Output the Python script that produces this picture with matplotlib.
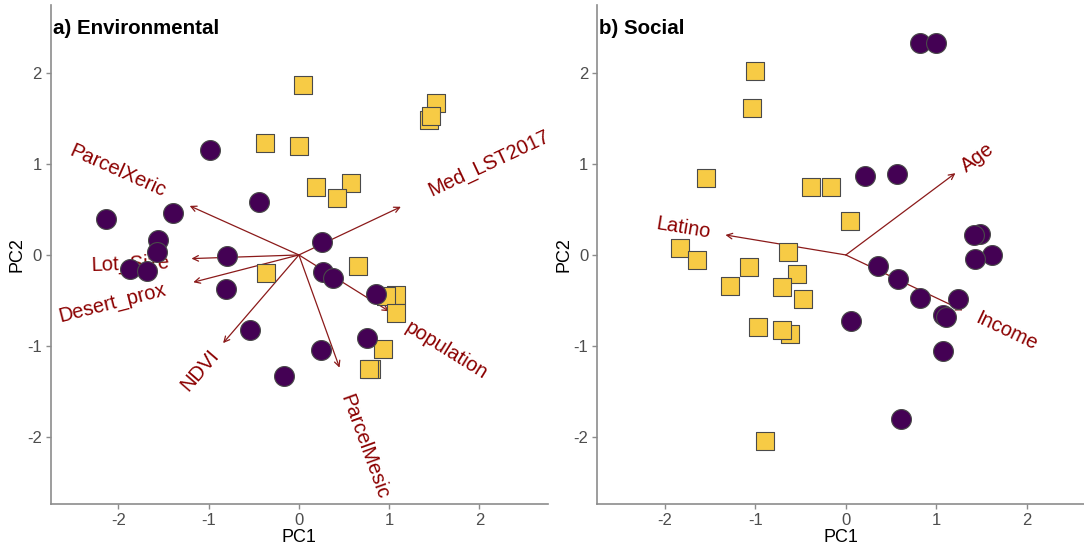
import matplotlib
matplotlib.use("Agg")
import matplotlib.pyplot as plt

plt.rcParams['font.family'] = ['Liberation Sans', 'DejaVu Sans']
plt.rcParams['axes.unicode_minus'] = False

# ---------------- data: a) Environmental ----------------
env_circle_x = [-0.985, -0.44, -2.14, -1.39, -1.56, -1.57, -0.80, -1.87, -1.68,
                -0.81, -0.54, -0.17, 0.26, 0.27, 0.38, 0.85, 0.75, 0.25]
env_circle_y = [1.16, 0.58, 0.40, 0.46, 0.16, 0.03, -0.01, -0.16, -0.18,
                -0.38, -0.83, -1.33, 0.14, -0.19, -0.25, -0.43, -0.91, -1.05]
env_square_x = [-0.38, 0.00, 0.04, 1.52, 1.44, 1.46, 0.19, 0.58, 0.42, -0.36,
                0.66, 1.08, 0.96, 1.08, 0.93, 0.80, 0.78]
env_square_y = [1.23, 1.20, 1.87, 1.67, 1.48, 1.53, 0.75, 0.79, 0.63, -0.20,
                -0.12, -0.44, -0.45, -0.64, -1.04, -1.25, -1.25]
env_vars = ["ParcelXeric", "Lot_Size", "Desert_prox", "NDVI", "Med_LST2017",
            "population", "ParcelMesic"]
env_load_x = [-1.21, -1.19, -1.17, -0.84, 1.13, 1.00, 0.45]
env_load_y = [0.54, -0.04, -0.30, -0.97, 0.53, -0.62, -1.24]
env_lab_x = [-2.01, -1.87, -2.07, -1.10, 2.11, 1.63, 0.72]
env_lab_y = [0.92, -0.10, -0.53, -1.27, 1.01, -1.05, -2.11]

# ---------------- data: b) Social ----------------
soc_circle_x = [0.82, 1.00, 0.21, 0.56, 1.48, 1.42, 1.61, 1.43, 0.36, 0.58,
                0.82, 1.24, 1.07, 1.11, 0.06, 1.07, 0.61]
soc_circle_y = [2.33, 2.33, 0.87, 0.89, 0.23, 0.22, 0.00, -0.04, -0.12, -0.26,
                -0.47, -0.48, -0.66, -0.68, -0.73, -1.06, -1.81]
soc_square_x = [-1.00, -1.04, -1.54, -1.83, -1.64, -0.64, -1.07, -0.54, -1.28,
                -0.71, -0.47, -0.97, -0.62, -0.70, -0.89, -0.38, -0.16, 0.05]
soc_square_y = [2.02, 1.62, 0.85, 0.08, -0.06, 0.03, -0.13, -0.21, -0.34,
                -0.35, -0.48, -0.79, -0.87, -0.83, -2.05, 0.75, 0.75, 0.37]
soc_vars = ["Latino", "Age", "Income"]
soc_load_x = [-1.33, 1.21, 1.29]
soc_load_y = [0.22, 0.90, -0.61]
soc_lab_x = [-1.79, 1.46, 1.77]
soc_lab_y = [0.30, 1.07, -0.84]

titles = ["a) Environmental", "b) Social"]
ticks = [-2, -1, 0, 1, 2]

PURPLE = "#440154"
YELLOW = "#F7CB45"
EDGE = "#4a4a4a"
ARROW = "#8B1A1A"
LABEL = "#8B0000"
SPINE = "#8c8c8c"

W, H = 1084, 548
fig = plt.figure(figsize=(W / 100, H / 100), dpi=100)
ax1 = fig.add_axes([50.7 / W, 44 / H, (548 - 50.7) / W, 499 / H])
ax2 = fig.add_axes([597.3 / W, 44 / H, (1084 - 597.3) / W, 499 / H])


def draw(ax, title, cx, cy, sx, sy, names, lx, ly, tx, ty, xlim):
    import math
    for name, x, y, px, py in zip(names, lx, ly, tx, ty):
        ax.annotate("", xy=(x, y), xytext=(0, 0),
                    arrowprops=dict(arrowstyle="->", color=ARROW, lw=0.9,
                                    shrinkA=0, shrinkB=0,
                                    mutation_scale=10), zorder=2)
        ang = math.degrees(math.atan(y / x))
        ax.text(px, py, name, rotation=ang, rotation_mode="anchor",
                ha="center", va="center", color=LABEL, fontsize=14.5, zorder=2)
    ax.scatter(sx, sy, marker="s", s=165, c=YELLOW, edgecolors=EDGE,
               linewidths=0.8, zorder=3)
    ax.scatter(cx, cy, marker="o", s=205, c=PURPLE, edgecolors=EDGE,
               linewidths=0.8, zorder=4)
    ax.set_xlim(*xlim)
    ax.set_ylim(-2.74, 2.75)
    ax.set_xticks(ticks)
    ax.set_yticks(ticks)
    for s in ["top", "right"]:
        ax.spines[s].set_visible(False)
    for s in ["left", "bottom"]:
        ax.spines[s].set_color(SPINE)
        ax.spines[s].set_linewidth(1.2)
    ax.tick_params(colors=SPINE, labelcolor="#4D4D4D", labelsize=12,
                   length=3.5, width=1.0, pad=3)
    ax.set_xlabel("PC1", fontsize=13, labelpad=1)
    ax.set_ylabel("PC2", fontsize=13, labelpad=1)
    ax.text(0.004, 0.952, title, transform=ax.transAxes, ha="left",
            va="center", fontsize=14.8, fontweight="bold", color="black")


draw(ax1, titles[0], env_circle_x, env_circle_y, env_square_x, env_square_y,
     env_vars, env_load_x, env_load_y, env_lab_x, env_lab_y, (-2.75, 2.76))
draw(ax2, titles[1], soc_circle_x, soc_circle_y, soc_square_x, soc_square_y,
     soc_vars, soc_load_x, soc_load_y, soc_lab_x, soc_lab_y, (-2.745, 2.63))

fig.savefig("out.png", dpi=100)
